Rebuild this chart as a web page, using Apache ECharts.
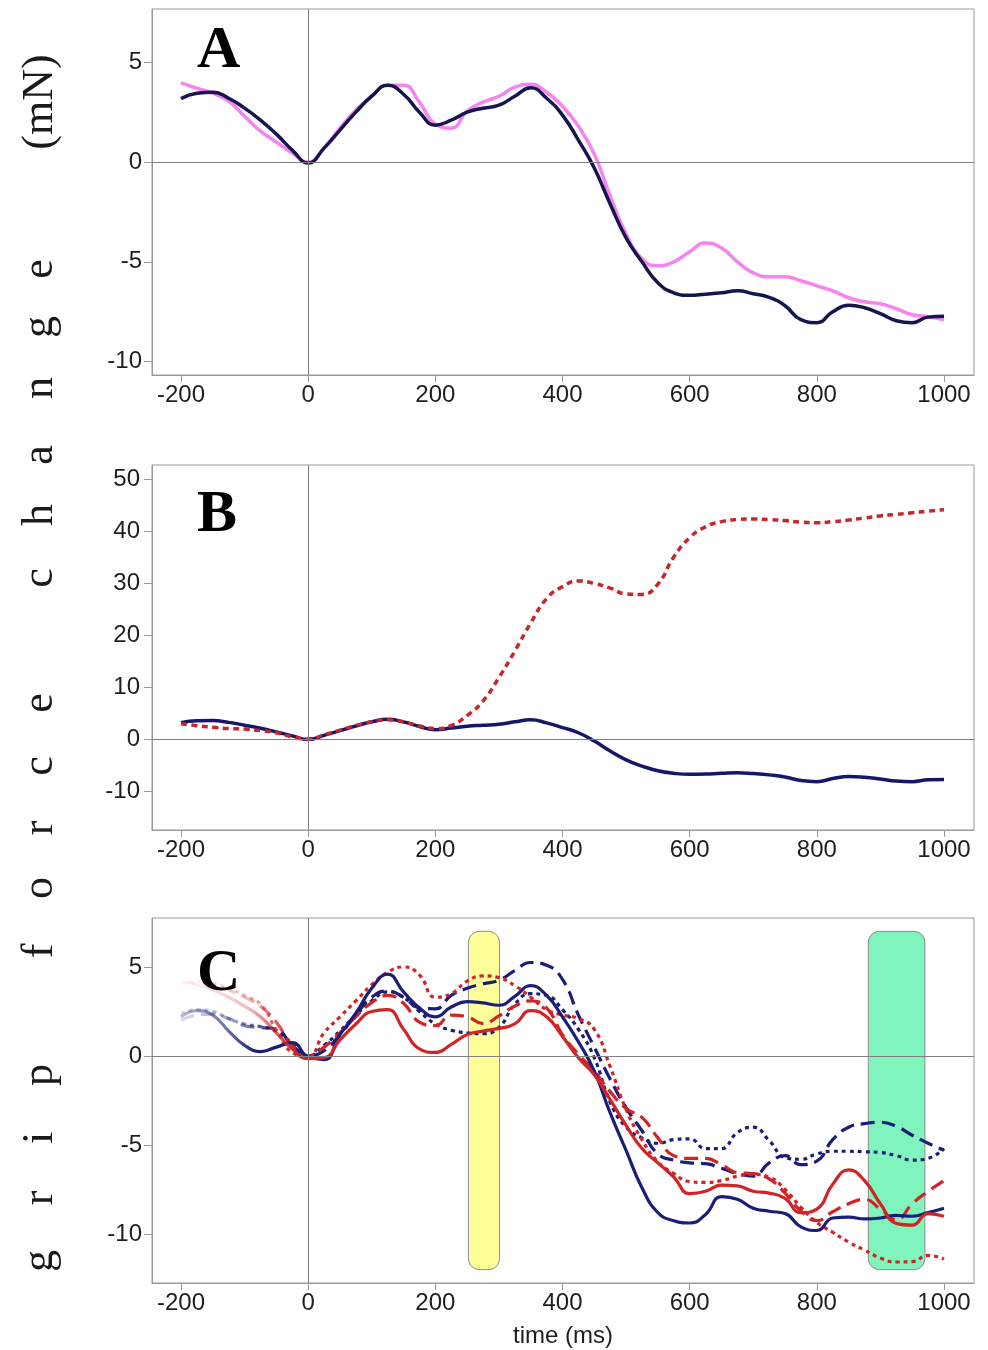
<!DOCTYPE html>
<html>
<head>
<meta charset="utf-8">
<script src="https://cdn.jsdelivr.net/npm/echarts@6/dist/echarts.min.js"></script>
<style>html,body{margin:0;padding:0;background:#fff;}#chart{width:988px;height:1350px;}</style>
</head>
<body>
<div id="chart"></div>
<script>
// ---- data ----
var TIME = [-200,-175,-150,-125,-100,-75,-50,-25,0,25,50,75,100,125,150,175,200,225,250,275,300,325,350,375,400,425,450,475,500,525,550,575,600,625,650,675,700,725,750,775,800,825,850,875,900,925,950,975,1000];
var X_TICKS = [-200,0,200,400,600,800,1000];
var A_Y_TICKS = [-10,-5,0,5];
var B_Y_TICKS = [-10,0,10,20,30,40,50];
var C_Y_TICKS = [-10,-5,0,5];

// Panel A
var A_PINK = [3.97,3.7,3.45,3.05,2.3,1.55,1.0,0.45,0.0,0.7,1.7,2.6,3.3,3.85,3.85,3.0,1.9,1.7,2.55,3.0,3.3,3.75,3.9,3.5,2.8,1.8,0.4,-1.7,-3.6,-4.85,-5.2,-5.0,-4.5,-4.05,-4.3,-5.0,-5.55,-5.75,-5.75,-5.95,-6.2,-6.45,-6.8,-7.0,-7.1,-7.35,-7.65,-7.75,-7.9];
var A_NAVY = [3.18,3.45,3.5,3.2,2.7,2.1,1.4,0.6,-0.05,0.7,1.6,2.5,3.3,3.85,3.4,2.5,1.85,2.1,2.5,2.7,2.85,3.3,3.73,3.2,2.35,1.1,-0.3,-2.1,-3.8,-5.0,-6.05,-6.55,-6.68,-6.62,-6.55,-6.45,-6.6,-6.78,-7.2,-7.9,-8.05,-7.5,-7.18,-7.3,-7.6,-7.95,-8.05,-7.77,-7.73];

// Panel B
var B_NAVY = [3.14,3.5,3.55,3.2,2.65,2.05,1.35,0.6,-0.1,0.7,1.6,2.5,3.3,3.8,3.3,2.4,1.8,2.1,2.45,2.65,2.85,3.3,3.7,3.1,2.2,1.2,-0.4,-2.3,-4.0,-5.2,-6.1,-6.6,-6.8,-6.75,-6.6,-6.5,-6.65,-6.9,-7.3,-8.0,-8.2,-7.6,-7.2,-7.35,-7.7,-8.1,-8.2,-7.85,-7.8];
var B_RED = [2.95,2.55,2.25,2.0,1.9,1.6,1.2,0.4,0.0,0.8,1.7,2.6,3.3,3.7,3.3,2.5,2.0,2.6,4.5,7.3,11.8,16.9,22.3,27.0,29.3,30.4,29.9,29.0,27.9,27.8,29.8,35.0,38.7,40.8,41.8,42.2,42.3,42.2,42.0,41.7,41.6,41.8,42.1,42.5,42.9,43.2,43.5,43.8,44.1];

// Panel C
var C_NAVY_SOLID = [2.2,2.55,2.3,1.4,0.6,0.25,0.5,0.75,-0.05,-0.2,1.2,2.4,3.8,4.6,3.6,2.7,2.2,2.75,3.05,2.98,2.85,3.35,3.95,3.4,2.2,0.8,-0.85,-3.2,-5.3,-7.4,-8.8,-9.25,-9.38,-8.9,-7.9,-8.05,-8.55,-8.72,-8.85,-9.6,-9.8,-9.1,-9.05,-9.15,-9.1,-8.95,-9.0,-8.8,-8.55];
var C_NAVY_DASHED = [2.0,2.3,2.35,2.1,1.7,1.6,1.5,0.6,0.0,0.3,1.2,2.3,3.3,3.65,3.3,2.7,2.65,3.4,3.8,4.05,4.25,4.8,5.25,5.1,4.3,2.3,0.5,-1.3,-2.9,-4.2,-5.5,-5.85,-6.0,-6.05,-6.3,-6.6,-6.75,-6.0,-5.6,-6.1,-5.9,-4.7,-4.0,-3.8,-3.72,-3.95,-4.45,-4.9,-5.3];
var C_NAVY_DOTTED = [2.4,2.6,2.5,2.1,1.8,1.65,1.4,0.7,0.0,0.6,1.4,2.3,3.1,3.6,3.3,2.5,1.8,1.45,1.3,1.25,1.6,2.9,3.5,3.4,2.6,1.5,-0.1,-2.6,-4.0,-4.6,-4.9,-4.7,-4.65,-5.2,-5.2,-4.3,-4.0,-4.75,-5.7,-5.8,-5.5,-5.35,-5.35,-5.38,-5.42,-5.6,-5.85,-5.75,-5.2];
var C_RED_SOLID = [4.2,4.0,3.7,3.3,2.8,2.2,1.3,0.4,-0.15,-0.1,0.9,1.8,2.5,2.6,1.5,0.4,0.2,0.65,1.2,1.4,1.55,1.8,2.55,2.2,1.1,-0.1,-1.05,-2.45,-3.9,-5.2,-6.0,-6.8,-7.73,-7.6,-7.25,-7.3,-7.6,-7.7,-8.0,-8.8,-8.6,-7.2,-6.4,-7.0,-8.3,-9.4,-9.5,-8.85,-9.0];
var C_RED_DASHED = [4.1,4.1,4.0,3.7,3.3,2.8,1.9,0.6,0.0,0.5,1.3,2.2,3.0,3.4,2.96,1.9,1.7,2.3,2.2,1.82,2.25,2.8,3.1,2.7,1.2,0.1,-0.85,-2.0,-2.95,-3.45,-4.6,-5.6,-5.75,-5.75,-6.1,-6.55,-6.6,-6.9,-7.7,-8.7,-9.25,-8.75,-8.3,-8.05,-8.6,-9.2,-8.3,-7.6,-7.0];
var C_RED_DOTTED = [4.1,4.2,4.1,3.8,3.4,2.9,1.46,0.2,0.0,1.3,2.2,3.1,4.0,4.7,5.0,4.55,3.3,3.5,4.2,4.5,4.4,3.95,3.3,2.6,2.3,2.1,1.5,-0.6,-3.0,-4.7,-5.95,-6.6,-7.05,-7.1,-7.0,-6.75,-6.65,-6.8,-7.5,-8.5,-9.35,-9.9,-10.45,-10.9,-11.35,-11.57,-11.55,-11.2,-11.4];

// highlighted windows in panel C (time start, time end, top value, bottom value)
var HL_START = [252, 881];
var HL_END = [301, 970];
var HL_TOP = [7.0, 7.0];
var HL_BOTTOM = [-12.0, -12.0];

// ---- build ----
function pairs(ys){ return TIME.map(function(t,i){ return [t, ys[i]]; }); }

var chart = echarts.init(document.getElementById('chart'));
var GRIDS = [
  {left:152, top:9, width:822, height:366},
  {left:152, top:465, width:822, height:365},
  {left:152, top:918, width:822, height:365}
];
var YR = [[-10.67,7.67],[-17.5,52.69],[-12.75,7.75]];
var YT = [A_Y_TICKS, B_Y_TICKS, C_Y_TICKS];
var YM = [10, 12, 10];
var labelFont = {fontFamily:'Liberation Sans', fontSize:24, color:'#1e1e1e'};
function plain(v){ return String(v); }

var grid = GRIDS.map(function(g){ return Object.assign({show:true, borderColor:'#9a9a9a', borderWidth:1, backgroundColor:'transparent'}, g); });
var xAxis = GRIDS.map(function(g,i){
  return {type:'value', gridIndex:i, min:-245.6, max:1047.2,
    axisLine:{show:true, onZero:false, lineStyle:{color:'#9a9a9a'}},
    axisTick:{show:true, length:7, customValues:X_TICKS, lineStyle:{color:'#9a9a9a'}},
    axisLabel:Object.assign({customValues:X_TICKS, margin:8, formatter:plain}, labelFont),
    splitLine:{show:false}};
});
var yAxis = GRIDS.map(function(g,i){
  return {type:'value', gridIndex:i, min:YR[i][0], max:YR[i][1],
    axisLine:{show:true, onZero:false, lineStyle:{color:'#9a9a9a'}},
    axisTick:{show:true, length:8, customValues:YT[i], lineStyle:{color:'#9a9a9a'}},
    axisLabel:Object.assign({customValues:YT[i], margin:YM[i], formatter:plain}, labelFont),
    splitLine:{show:false}};
});

function zeroLines(i){
  return {type:'line', xAxisIndex:i, yAxisIndex:i, data:[], silent:true, z:1,
    markLine:{silent:true, symbol:['none','none'], label:{show:false},
      lineStyle:{color:'#808080', width:1, type:'solid'},
      emphasis:{disabled:true},
      data:[{xAxis:0},{yAxis:0}]}};
}

function line(i, ys, color, width, type, z){
  return {type:'line', xAxisIndex:i, yAxisIndex:i, data:pairs(ys), smooth:0.5,
    showSymbol:false, symbol:'none', z:z||3, silent:true,
    lineStyle:{color:color, width:width, type:type||'solid', cap:'butt'}};
}

function fade(rgb, a0, stop){
  return new echarts.graphic.LinearGradient(0,0,1,0,[
    {offset:0, color:'rgba('+rgb+','+a0+')'},
    {offset:stop*0.6, color:'rgba('+rgb+','+(a0+0.3)+')'},
    {offset:stop, color:'rgba('+rgb+',1)'},
    {offset:1, color:'rgba('+rgb+',1)'}]);
}

var NAVY_C = '26,30,120';
var RED_C = '208,36,38';
var HL_COLORS = ['#ffff99', '#7ff5bd'];

var series = [
  zeroLines(0), zeroLines(1), zeroLines(2),
  line(0, A_PINK, '#f683ef', 3.5),
  line(0, A_NAVY, '#16154f', 3.5),
  line(1, B_NAVY, '#17176a', 3.5),
  line(1, B_RED, '#c4272c', 3.5, [6,4.5]),
  {type:'custom', xAxisIndex:2, yAxisIndex:2, z:2, silent:true,
   data: HL_START.map(function(s,k){ return [s, HL_END[k], HL_TOP[k], HL_BOTTOM[k]]; }),
   encode:{x:[0,1], y:[2,3]},
   renderItem:function(params, api){
     var p0 = api.coord([api.value(0), api.value(2)]);
     var p1 = api.coord([api.value(1), api.value(3)]);
     return {type:'rect', shape:{x:p0[0], y:p0[1], width:p1[0]-p0[0], height:p1[1]-p0[1], r:11},
       style:{fill:HL_COLORS[params.dataIndex], stroke:'#8c8c8c', lineWidth:1}};
   }},
  line(2, C_NAVY_DOTTED, fade(NAVY_C, 0.15, 0.13), 3.2, [4,4]),
  line(2, C_NAVY_DASHED, fade(NAVY_C, 0.15, 0.13), 3.2, [14,7]),
  line(2, C_RED_DOTTED, fade(RED_C, 0.0, 0.15), 3.2, [4,4]),
  line(2, C_RED_DASHED, fade(RED_C, 0.0, 0.15), 3.2, [14,7]),
  line(2, C_NAVY_SOLID, fade(NAVY_C, 0.3, 0.1), 3.2),
  line(2, C_RED_SOLID, fade(RED_C, 0.0, 0.15), 3.2)
];

// vertical axis title, letter by letter
var TITLE_LETTERS = [['g',1261],['r',1198],['i',1138],['p',1075],['f',951],['o',888],['r',828],['c',766],['e',703],['c',578],['h',515],['a',455],['n',388],['g',327],['e',269],['(mN)',102]];
var graphics = TITLE_LETTERS.map(function(L){
  return {type:'text', x:40, y:L[1], rotation:Math.PI/2, z:10,
    style:{text:L[0], fontFamily:'Liberation Serif', fontSize:44, fill:'#1a1a1a', align:'center', verticalAlign:'middle'}};
});
[['A',21],['B',485],['C',944]].forEach(function(p){
  graphics.push({type:'text', x:197, y:p[1], z:10,
    style:{text:p[0], fontFamily:'Liberation Serif', fontWeight:'bold', fontSize:60, fill:'#000', align:'left', verticalAlign:'top'}});
});
graphics.push({type:'text', x:563, y:1336, z:10,
  style:{text:'time (ms)', fontFamily:'Liberation Sans', fontSize:24, fill:'#1e1e1e', align:'center', verticalAlign:'middle'}});

chart.setOption({
  animation:false,
  backgroundColor:'#ffffff',
  grid:grid, xAxis:xAxis, yAxis:yAxis, series:series, graphic:graphics
});
</script>
</body>
</html>
